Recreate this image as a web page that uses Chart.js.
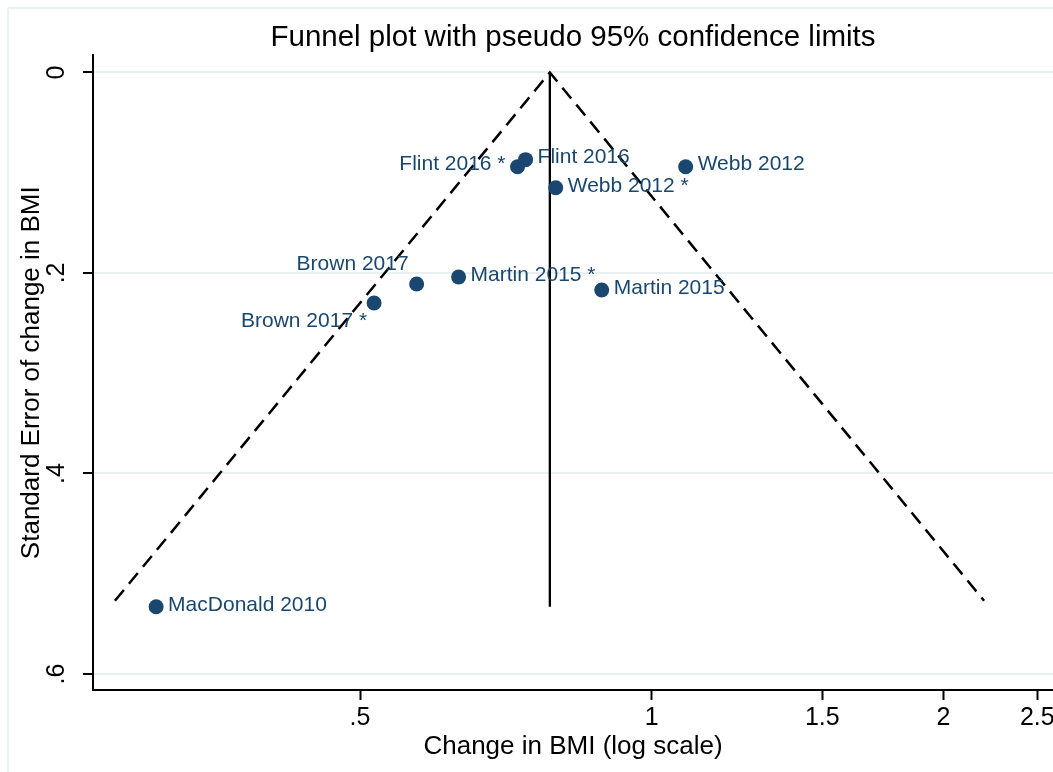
<!DOCTYPE html>
<html>
<head>
<meta charset="utf-8">
<script src="https://cdn.jsdelivr.net/npm/chart.js@4.4.1/dist/chart.umd.min.js"></script>
<style>
  html, body { margin: 0; padding: 0; background: #fff; }
  #wrap { width: 1053px; height: 772px; }
</style>
</head>
<body>
<div id="wrap"><canvas id="funnel" width="1053" height="772"></canvas></div>
<script>
// studies and their estimates
const studies = ['MacDonald 2010', 'Webb 2012', 'Webb 2012 *', 'Martin 2015', 'Martin 2015 *',
                 'Flint 2016', 'Flint 2016 *', 'Brown 2017', 'Brown 2017 *'];
const effect = [0.308, 1.084, 0.796, 0.888, 0.632, 0.741, 0.727, 0.572, 0.517];
const stdErr = [0.533, 0.094, 0.115, 0.217, 0.204, 0.087, 0.094, 0.211, 0.230];
// clock position of each marker label (stata mlabvpos)
const labelClock = [3, 3, 3, 3, 3, 3, 9, 10, 8];

// pooled estimate + pseudo 95% limits
const pooled = 0.785;
const limitX = [0.2793, 0.785, 2.203];
const limitSE = [0.527, 0, 0.527];
const pooledSE = [0, 0.533];

const xTicks = [0.5, 1, 1.5, 2, 2.5];
const yTicks = [0, 0.2, 0.4, 0.6];

const FONT = "'Liberation Sans', Arial, sans-serif";
const NAVY = '#1a476f';

const fmt = v => {
  const s = String(Math.round(v * 10) / 10);
  return s.startsWith('0.') ? s.slice(1) : s;
};

// light outer frame like stata's graph region
const framePlugin = {
  id: 'frame',
  beforeDraw(chart) {
    const ctx = chart.ctx;
    ctx.save();
    ctx.fillStyle = '#fff';
    ctx.fillRect(0, 0, chart.width, chart.height);
    ctx.strokeStyle = '#e6eef0';
    ctx.lineWidth = 1.5;
    ctx.strokeRect(8, 8, chart.width + 20, chart.height + 20);
    ctx.restore();
  }
};

// rotated y tick labels
const yLabelPlugin = {
  id: 'yLabels',
  afterDraw(chart) {
    const sc = chart.scales.y;
    const ctx = chart.ctx;
    ctx.save();
    ctx.font = '25px ' + FONT;
    ctx.fillStyle = '#000';
    ctx.textAlign = 'center';
    ctx.textBaseline = 'middle';
    sc.ticks.forEach(t => {
      const py = sc.getPixelForValue(t.value);
      ctx.save();
      ctx.translate(57, py);
      ctx.rotate(-Math.PI / 2);
      ctx.fillText(fmt(t.value), 0, 0);
      ctx.restore();
    });
    ctx.restore();
  }
};

// marker labels
const markerLabels = {
  id: 'markerLabels',
  afterDatasetsDraw(chart) {
    const meta = chart.getDatasetMeta(0);
    const ctx = chart.ctx;
    ctx.save();
    ctx.font = '21px ' + FONT;
    ctx.fillStyle = NAVY;
    ctx.textBaseline = 'middle';
    meta.data.forEach((pt, i) => {
      const pos = labelClock[i];
      let dx = 12, dy = -2, align = 'left';
      if (pos === 9) { dx = -12; align = 'right'; }
      if (pos === 10) { dx = -8; dy = -20; align = 'right'; }
      if (pos === 8) { dx = -7; dy = 18; align = 'right'; }
      ctx.textAlign = align;
      ctx.fillText(studies[i], pt.x + dx, pt.y + dy);
    });
    ctx.restore();
  }
};

new Chart(document.getElementById('funnel'), {
  type: 'scatter',
  data: {
    datasets: [
      {
        data: studies.map((s, i) => ({ x: effect[i], y: stdErr[i] })),
        backgroundColor: NAVY,
        borderWidth: 0,
        pointRadius: 7.5,
        pointHoverRadius: 7.5
      },
      {
        data: limitX.map((x, i) => ({ x: x, y: limitSE[i] })),
        showLine: true,
        borderColor: '#000',
        borderWidth: 2.5,
        borderDash: [14, 8],
        pointRadius: 0
      },
      {
        data: pooledSE.map(se => ({ x: pooled, y: se })),
        showLine: true,
        borderColor: '#000',
        borderWidth: 2.3,
        pointRadius: 0
      }
    ]
  },
  options: {
    responsive: false,
    animation: false,
    layout: { padding: 0, autoPadding: false },
    plugins: {
      legend: { display: false },
      tooltip: { enabled: false },
      title: {
        display: true,
        text: 'Funnel plot with pseudo 95% confidence limits',
        color: '#000',
        fullSize: false,
        font: { family: FONT, size: 29.5, weight: 'normal' },
        padding: { top: 20, bottom: 0 }
      }
    },
    scales: {
      x: {
        type: 'logarithmic',
        min: 0.2651,
        max: 2.595,
        afterBuildTicks: s => { s.ticks = xTicks.map(v => ({ value: v })); },
        afterFit: s => { s.height = 82; s.paddingLeft = 0; s.paddingRight = 0; },
        ticks: {
          autoSkip: false,
          maxRotation: 0,
          color: '#000',
          padding: 3,
          font: { family: FONT, size: 25 },
          callback: v => fmt(v)
        },
        grid: { drawOnChartArea: false, drawTicks: true, tickLength: 10, tickColor: '#000', tickWidth: 2 },
        border: { color: '#000', width: 2 },
        title: {
          display: true,
          text: 'Change in BMI (log scale)',
          color: '#000',
          font: { family: FONT, size: 26 },
          padding: { top: 0, bottom: 10 }
        }
      },
      y: {
        type: 'linear',
        reverse: true,
        min: -0.017,
        max: 0.616,
        afterBuildTicks: s => { s.ticks = yTicks.map(v => ({ value: v })); },
        afterFit: s => { s.width = 93; s.paddingTop = 0; s.paddingBottom = 0; },
        ticks: { display: false },
        grid: { color: '#e9f0f1', lineWidth: 2, drawTicks: true, tickLength: 10, tickColor: '#000', tickWidth: 2 },
        border: { color: '#000', width: 2 },
        title: {
          display: true,
          text: 'Standard Error of change in BMI',
          color: '#000',
          font: { family: FONT, size: 26 },
          padding: { top: 16, bottom: 0 }
        }
      }
    }
  },
  plugins: [framePlugin, yLabelPlugin, markerLabels]
});
</script>
</body>
</html>
